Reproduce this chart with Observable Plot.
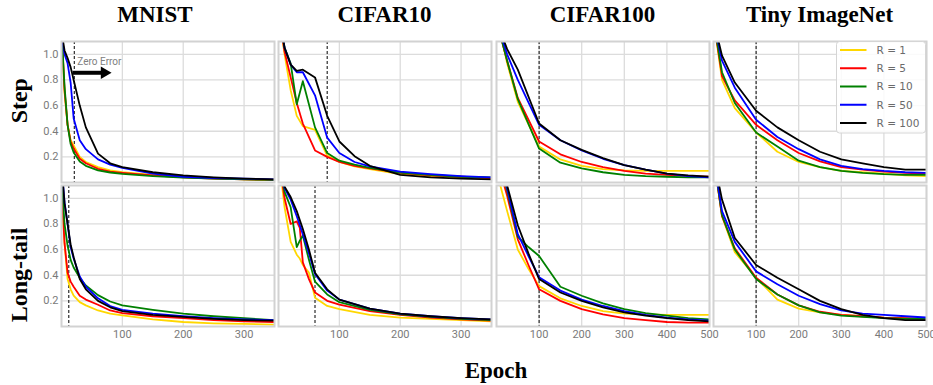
<!DOCTYPE html>
<html><head><meta charset="utf-8">
<script src="https://cdn.jsdelivr.net/npm/d3@7"></script>
<script src="https://cdn.jsdelivr.net/npm/@observablehq/plot@0.6"></script>
<style>
body{margin:0;background:#fff;}
#chart{position:relative;width:933px;height:385px;overflow:hidden;background:#fff;}
</style></head><body><div id="chart"></div>
<script>
// ---------- categories & labels ----------
const R_LABELS = ["R = 1", "R = 5", "R = 10", "R = 50", "R = 100"];
const R_COLORS = ["#FFD700", "#FF0000", "#008000", "#0000FF", "#000000"];
const DATASETS = ["MNIST", "CIFAR10", "CIFAR100", "Tiny ImageNet"];
const ROWS = ["Step", "Long-tail"];
const X_LABEL = "Epoch";
const Y_TICKS = [0.2, 0.4, 0.6, 0.8, 1.0];
const X_TICKS_SHORT = [100, 200, 300];
const X_TICKS_LONG = [100, 200, 300, 400, 500];
const X_MAX = [350, 350, 500, 500];
const ZERO_ERROR_STEP = [21, 80, 100, 100];
const ZERO_ERROR_LT = [12, 60, 100, 100];
const ZERO_ERROR_NOTE = [{epoch: 26, loss: 0.945, text: "Zero Error"}];
const ZERO_ERROR_ARROW = [{from: 19, to: 66, head: 70.5, loss: 0.856}];

// ---------- Step row ----------
const mnistStepEpochs = [1, 5, 10, 15, 20, 30, 40, 60, 80, 100, 150, 200, 250, 300, 350];
const mnistStep = [
  [1.1, 0.70, 0.45, 0.33, 0.29, 0.20, 0.16, 0.12, 0.095, 0.08, 0.06, 0.045, 0.035, 0.025, 0.02],
  [1.1, 0.72, 0.45, 0.32, 0.265, 0.185, 0.15, 0.107, 0.085, 0.075, 0.055, 0.04, 0.03, 0.025, 0.02],
  [1.1, 0.75, 0.45, 0.30, 0.235, 0.164, 0.13, 0.094, 0.078, 0.068, 0.05, 0.038, 0.03, 0.025, 0.02],
  [1.12, 1.0, 0.93, 0.78, 0.50, 0.33, 0.26, 0.18, 0.14, 0.115, 0.07, 0.045, 0.035, 0.03, 0.025],
  [1.15, 1.03, 0.97, 0.90, 0.80, 0.60, 0.43, 0.225, 0.15, 0.12, 0.08, 0.055, 0.04, 0.03, 0.025]
];
const cifar10StepEpochs = [1, 10, 20, 30, 40, 60, 80, 100, 125, 150, 200, 250, 300, 350];
const cifar10Step = [
  [1.3, 1.0, 0.72, 0.52, 0.44, 0.41, 0.21, 0.16, 0.125, 0.105, 0.065, 0.05, 0.04, 0.035],
  [1.3, 1.02, 0.82, 0.62, 0.46, 0.25, 0.20, 0.16, 0.13, 0.11, 0.075, 0.055, 0.045, 0.035],
  [1.3, 1.05, 0.93, 0.61, 0.79, 0.43, 0.23, 0.17, 0.14, 0.115, 0.077, 0.06, 0.045, 0.04],
  [1.3, 1.05, 0.92, 0.86, 0.86, 0.68, 0.35, 0.23, 0.16, 0.125, 0.085, 0.065, 0.05, 0.04],
  [1.3, 1.05, 0.92, 0.87, 0.88, 0.82, 0.52, 0.32, 0.205, 0.13, 0.06, 0.04, 0.03, 0.025]
];
const cifar100StepEpochs = [1, 25, 50, 100, 150, 200, 250, 300, 350, 400, 450, 500];
const cifar100Step = [
  [1.3, 0.93, 0.63, 0.28, 0.18, 0.13, 0.105, 0.095, 0.09, 0.09, 0.09, 0.09],
  [1.25, 0.95, 0.66, 0.32, 0.22, 0.16, 0.12, 0.09, 0.07, 0.06, 0.05, 0.045],
  [1.25, 0.95, 0.65, 0.265, 0.155, 0.11, 0.08, 0.06, 0.05, 0.045, 0.04, 0.04],
  [1.25, 1.0, 0.80, 0.45, 0.33, 0.25, 0.185, 0.135, 0.10, 0.07, 0.05, 0.04],
  [1.25, 1.04, 0.88, 0.46, 0.33, 0.255, 0.19, 0.135, 0.10, 0.07, 0.055, 0.045]
];
const tinyStepEpochs = [1, 20, 50, 100, 150, 200, 250, 300, 350, 400, 450, 500];
const tinyStep = [
  [1.25, 0.80, 0.58, 0.39, 0.24, 0.16, 0.12, 0.09, 0.08, 0.07, 0.055, 0.05],
  [1.25, 0.83, 0.64, 0.45, 0.33, 0.23, 0.165, 0.12, 0.10, 0.085, 0.075, 0.07],
  [1.25, 0.86, 0.62, 0.39, 0.28, 0.17, 0.12, 0.09, 0.075, 0.065, 0.06, 0.06],
  [1.25, 0.95, 0.74, 0.49, 0.355, 0.26, 0.18, 0.13, 0.105, 0.09, 0.08, 0.075],
  [1.25, 0.99, 0.78, 0.56, 0.43, 0.33, 0.24, 0.18, 0.15, 0.12, 0.10, 0.10]
];

// ---------- Long-tail row ----------
const mnistLtEpochs = [1, 5, 10, 15, 20, 30, 40, 60, 80, 100, 150, 200, 250, 300, 350];
const mnistLt = [
  [0.95, 0.65, 0.37, 0.29, 0.24, 0.19, 0.165, 0.125, 0.10, 0.086, 0.055, 0.035, 0.025, 0.02, 0.015],
  [1.0, 0.65, 0.42, 0.35, 0.31, 0.24, 0.21, 0.17, 0.125, 0.105, 0.08, 0.065, 0.05, 0.04, 0.035],
  [1.1, 0.80, 0.63, 0.52, 0.46, 0.38, 0.32, 0.245, 0.195, 0.165, 0.13, 0.10, 0.08, 0.065, 0.05],
  [1.2, 0.97, 0.80, 0.62, 0.53, 0.39, 0.31, 0.22, 0.16, 0.13, 0.10, 0.08, 0.065, 0.055, 0.05],
  [1.2, 0.96, 0.80, 0.64, 0.54, 0.37, 0.29, 0.20, 0.15, 0.12, 0.09, 0.075, 0.06, 0.05, 0.045]
];
const cifar10LtEpochs = [1, 10, 20, 30, 35, 40, 50, 60, 80, 100, 150, 200, 250, 300, 350];
const cifar10Lt = [
  [1.3, 0.93, 0.66, 0.56, 0.53, 0.48, 0.42, 0.225, 0.16, 0.135, 0.09, 0.07, 0.06, 0.05, 0.04],
  [1.3, 1.0, 0.80, 0.82, 0.77, 0.50, 0.37, 0.265, 0.20, 0.17, 0.12, 0.09, 0.07, 0.055, 0.045],
  [1.3, 1.05, 0.93, 0.62, 0.67, 0.71, 0.52, 0.35, 0.25, 0.19, 0.13, 0.095, 0.075, 0.06, 0.05],
  [1.3, 1.08, 0.99, 0.86, 0.79, 0.72, 0.57, 0.41, 0.28, 0.21, 0.14, 0.10, 0.08, 0.065, 0.055],
  [1.3, 1.09, 1.01, 0.90, 0.83, 0.76, 0.60, 0.42, 0.29, 0.21, 0.14, 0.10, 0.08, 0.065, 0.055]
];
const cifar100LtEpochs = [1, 25, 50, 75, 100, 150, 200, 250, 300, 350, 400, 450, 500];
const cifar100Lt = [
  [1.2, 0.90, 0.60, 0.45, 0.315, 0.22, 0.16, 0.12, 0.10, 0.095, 0.09, 0.09, 0.09],
  [1.3, 1.02, 0.68, 0.48, 0.29, 0.20, 0.135, 0.095, 0.065, 0.05, 0.035, 0.03, 0.03],
  [1.35, 1.06, 0.70, 0.62, 0.55, 0.31, 0.24, 0.18, 0.135, 0.105, 0.085, 0.065, 0.055],
  [1.35, 1.08, 0.72, 0.55, 0.385, 0.28, 0.21, 0.16, 0.12, 0.09, 0.07, 0.055, 0.045],
  [1.35, 1.1, 0.79, 0.57, 0.37, 0.265, 0.20, 0.15, 0.11, 0.085, 0.065, 0.05, 0.04]
];
const tinyLtEpochs = [1, 20, 50, 100, 150, 200, 250, 300, 350, 400, 450, 500];
const tinyLt = [
  [1.3, 0.86, 0.58, 0.38, 0.21, 0.14, 0.11, 0.09, 0.08, 0.07, 0.065, 0.06],
  [1.3, 0.86, 0.61, 0.38, 0.25, 0.165, 0.115, 0.09, 0.08, 0.07, 0.065, 0.06],
  [1.3, 0.87, 0.60, 0.37, 0.25, 0.165, 0.11, 0.085, 0.075, 0.065, 0.06, 0.06],
  [1.3, 0.90, 0.66, 0.43, 0.33, 0.24, 0.175, 0.125, 0.10, 0.09, 0.08, 0.07],
  [1.3, 0.99, 0.69, 0.48, 0.38, 0.29, 0.20, 0.135, 0.09, 0.065, 0.05, 0.05]
];

const PANELS = [
  [[mnistStepEpochs, mnistStep], [cifar10StepEpochs, cifar10Step], [cifar100StepEpochs, cifar100Step], [tinyStepEpochs, tinyStep]],
  [[mnistLtEpochs, mnistLt], [cifar10LtEpochs, cifar10Lt], [cifar100LtEpochs, cifar100Lt], [tinyLtEpochs, tinyLt]]
];

// ---------- layout ----------
const COL_LEFT = [61, 278, 496, 713];
const ROW_TOP = [41, 185];
const PW = 213, PH = 141;
const ML = 40, MR = 22, MT = 6, MB = 24;
const GRID = "#dcdcdc", FRAME = "#d2d2d2";
const chart = document.getElementById("chart");

function makePanel(r, c) {
  const [epochs, series] = PANELS[r][c];
  const rows = [];
  series.forEach((ys, i) => ys.forEach((v, j) => rows.push({epoch: epochs[j], loss: v, R: R_LABELS[i]})));
  const xTicks = X_MAX[c] === 350 ? X_TICKS_SHORT : X_TICKS_LONG;
  const zero = r === 0 ? ZERO_ERROR_STEP[c] : ZERO_ERROR_LT[c];
  const marks = [
    Plot.ruleX(xTicks, {stroke: GRID, strokeWidth: 1.3}),
    Plot.ruleY(Y_TICKS, {stroke: GRID, strokeWidth: 1.3}),
    Plot.ruleX([zero], {stroke: "#000", strokeWidth: 1, strokeDasharray: "3,2"}),
    Plot.line(rows, {x: "epoch", y: "loss", z: "R", stroke: "R", strokeWidth: 1.8, clip: true})
  ];
  if (r === 0 && c === 0) {
    marks.push(
      Plot.text(ZERO_ERROR_NOTE, {x: "epoch", y: "loss", text: "text", textAnchor: "start", fill: "#808080", fontSize: 10, fontFamily: "Roboto"}),
      Plot.ruleY(ZERO_ERROR_ARROW, {y: "loss", x1: "from", x2: "to", stroke: "#000", strokeWidth: 4}),
      Plot.dot(ZERO_ERROR_ARROW, {x: "head", y: "loss", symbol: "triangle", r: 4.6, rotate: 90, fill: "#000", stroke: "none"})
    );
  }
  marks.push(Plot.frame({stroke: FRAME, strokeWidth: 2}));
  const svg = Plot.plot({
    width: PW + ML + MR, height: PH + MT + MB,
    marginLeft: ML, marginRight: MR, marginTop: MT, marginBottom: MB,
    style: {fontFamily: "Roboto", fontSize: "11px", color: "#7a7a7a", background: "transparent", overflow: "visible"},
    x: {domain: [0, X_MAX[c]], axis: r === 1 ? "bottom" : null, ticks: xTicks, tickSize: 0, tickPadding: 4, label: null},
    y: {domain: [0, 1.1], axis: c === 0 ? "left" : null, ticks: Y_TICKS, tickSize: 0, tickPadding: 3, tickFormat: d3.format(".1f"), label: null},
    color: {domain: R_LABELS, range: R_COLORS},
    marks
  });
  svg.style.position = "absolute";
  svg.style.left = (COL_LEFT[c] - ML) + "px";
  svg.style.top = (ROW_TOP[r] - MT) + "px";
  chart.appendChild(svg);
}
for (let r = 0; r < 2; r++) for (let c = 0; c < 4; c++) makePanel(r, c);

// ---------- overlay: titles, row labels, x label, legend ----------
const ov = d3.select(chart).append("svg")
  .attr("width", 933).attr("height", 385)
  .style("position", "absolute").style("left", "0px").style("top", "0px").style("pointer-events", "none");
const serif = "'Liberation Serif','Times New Roman',serif";
const TITLE_X = [155, 384.5, 602.5, 819.5];
ov.selectAll("text.title").data(DATASETS).join("text").attr("class", "title")
  .attr("x", (d, i) => TITLE_X[i]).attr("y", 21.5).attr("text-anchor", "middle")
  .attr("font-family", serif).attr("font-weight", "bold").attr("font-size", 23).text(d => d);
const ROW_Y = [100.7, 275];
ov.selectAll("text.row").data(ROWS).join("text").attr("class", "row")
  .attr("transform", (d, i) => `translate(27,${ROW_Y[i]}) rotate(-90)`).attr("text-anchor", "middle")
  .attr("font-family", serif).attr("font-weight", "bold").attr("font-size", 24).text(d => d);
ov.append("text").attr("x", 496).attr("y", 378).attr("text-anchor", "middle")
  .attr("font-family", serif).attr("font-weight", "bold").attr("font-size", 23).text(X_LABEL);

const lg = ov.append("g").attr("transform", "translate(836.5,41.5)");
lg.append("rect").attr("width", 89).attr("height", 91.5).attr("rx", 3)
  .attr("fill", "#fff").attr("fill-opacity", 0.85).attr("stroke", "#d5d5d5").attr("stroke-width", 1);
R_LABELS.forEach((lab, i) => {
  const y = 8.5 + i * 18.25;
  lg.append("line").attr("x1", 3.5).attr("x2", 30).attr("y1", y).attr("y2", y)
    .attr("stroke", R_COLORS[i]).attr("stroke-width", 2);
  lg.append("text").attr("x", 40).attr("y", y).attr("dy", "0.36em")
    .attr("font-family", "'DejaVu Sans',sans-serif").attr("font-size", 10.5).attr("fill", "#6a6a6a").text(lab);
});
</script></body></html>
